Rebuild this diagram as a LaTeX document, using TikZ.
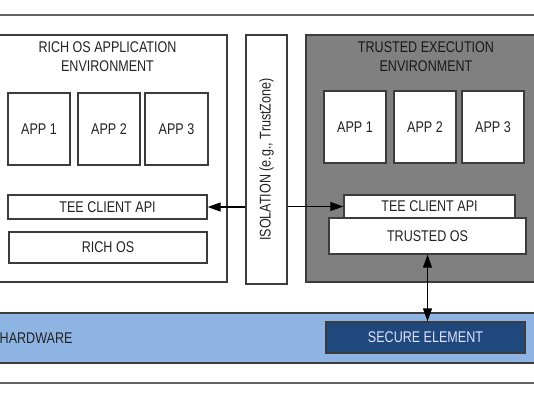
\documentclass[tikz,border=0pt]{standalone}
\usepackage{fontspec}
\setmainfont[FakeStretch=0.81]{Liberation Sans}
\usetikzlibrary{arrows.meta}

\definecolor{teegray}{RGB}{128, 128, 128}
\definecolor{hwblue}{RGB}{141, 180, 226}
\definecolor{sedark}{RGB}{31, 73, 125}
\definecolor{linegray}{RGB}{60, 60, 60}
\definecolor{txtgray}{RGB}{35, 35, 35}

\begin{document}
\begin{tikzpicture}[
    x=1pt, y=-1pt,
    lbl/.style={font=\fontsize{15.5}{19}\selectfont, text=txtgray},
    box/.style={lbl, draw=linegray, line width=1.3pt, fill=white, inner sep=0pt},
    appbox/.style={box, minimum width=62pt, minimum height=72pt},
    arr/.style={line width=1.1pt, {Triangle[length=13pt,width=9pt]}-{Triangle[length=13pt,width=9pt]}},
    tip/.style={line width=1.1pt, -{Triangle[length=13pt,width=9pt]}},
  ]
    \useasboundingbox[fill=white] (0,0) rectangle (534,400);

    % === frame lines ===
    \draw[line width=1.3pt, linegray!80] (-2,15) -- (536,15);
    \draw[line width=1.3pt, linegray!80] (-2,383) -- (536,383);

    % === Rich OS side ===
    \node[box, minimum width=239pt, minimum height=247pt] (renv) at (107.5,158.5) {};
    \node[lbl, align=center] (rtitle) at (107.5,56.5) {RICH OS APPLICATION\\ENVIRONMENT};
    \node[appbox] (rapp1) at (39,129) {APP 1};
    \node[appbox] (rapp2) at (109,129) {APP 2};
    \node[appbox, minimum width=63pt] (rapp3) at (176.5,129) {APP 3};
    \node[box, minimum width=199pt, minimum height=24pt] (rapi) at (107.5,207) {TEE CLIENT API};
    \node[box, minimum width=198pt, minimum height=31pt] (ros) at (108,247.5) {RICH OS};

    % === isolation bar ===
    \node[box, minimum width=41pt, minimum height=249pt] (iso) at (266.5,159.5) {};
    \node[lbl, rotate=90] (isotxt) at (iso.center) {ISOLATION (e.g., TrustZone)};

    % === Trusted execution side ===
    \node[box, fill=teegray, minimum width=240pt, minimum height=247pt] (tenv) at (426,158.5) {};
    \node[lbl, text=black!90, align=center] (ttitle) at (426,56.5) {TRUSTED EXECUTION\\ENVIRONMENT};
    \node[appbox] (tapp1) at (355,127) {APP 1};
    \node[appbox] (tapp2) at (425,127) {APP 2};
    \node[appbox] (tapp3) at (493,127) {APP 3};
    \node[box, minimum width=197pt, minimum height=36pt] (tos) at (427.5,236) {TRUSTED OS};
    \node[box, minimum width=171pt, minimum height=23pt] (tapi) at (429.5,206.5) {TEE CLIENT API};

    % === hardware ===
    \node[box, fill=hwblue, minimum width=560pt, minimum height=50pt] (hw) at (267,338) {};
    \node[lbl, anchor=west, inner sep=0pt] (hwtxt) at (-0.5,338) {HARDWARE};
    \node[box, fill=sedark, text=white!88!blue, minimum width=199pt, minimum height=31pt] (se) at (425.5,337.5) {SECURE ELEMENT};

    % --- connectors ---
    \draw[tip] (iso.west |- rapi.east) -- (rapi.east);
    \draw[tip] (iso.east |- tapi.west) -- (tapi.west);
    \draw[arr] (tos.south) -- (tos.south |- se.north);
  \end{tikzpicture}
\end{document}
